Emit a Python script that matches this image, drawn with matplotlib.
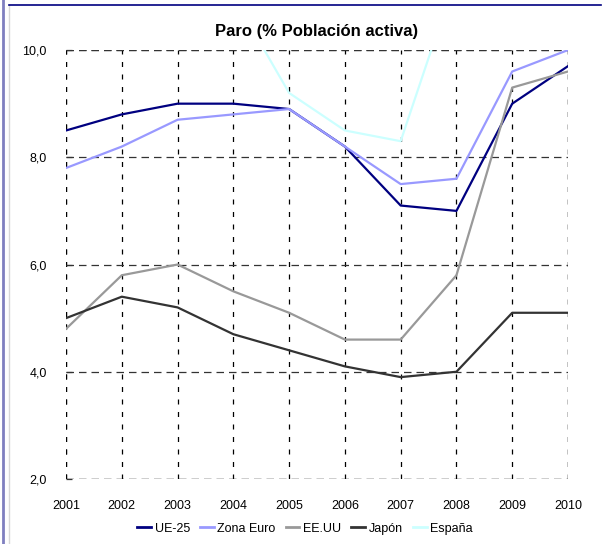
import matplotlib.pyplot as plt
from matplotlib.lines import Line2D

years = [2001, 2002, 2003, 2004, 2005, 2006, 2007, 2008, 2009, 2010]
ue25 = [8.5, 8.8, 9.0, 9.0, 8.9, 8.2, 7.1, 7.0, 9.0, 9.7]
zona_euro = [7.8, 8.2, 8.7, 8.8, 8.9, 8.2, 7.5, 7.6, 9.6, 10.0]
eeuu = [4.8, 5.8, 6.0, 5.5, 5.1, 4.6, 4.6, 5.8, 9.3, 9.6]
japon = [5.0, 5.4, 5.2, 4.7, 4.4, 4.1, 3.9, 4.0, 5.1, 5.1]
espana = [10.3, 11.1, 11.1, 11.0, 9.2, 8.5, 8.3, 11.4, 18.0, 20.1]

series = [
    ("UE-25", ue25, "#000080"),
    ("Zona Euro", zona_euro, "#9999ff"),
    ("EE.UU", eeuu, "#999999"),
    ("Japón", japon, "#333333"),
    ("España", espana, "#ccffff"),
]
yticks = [2.0, 4.0, 6.0, 8.0, 10.0]

plt.rcParams['font.family'] = ['Liberation Sans', 'DejaVu Sans']

fig = plt.figure(figsize=(6.04, 5.44), dpi=100)
ax = fig.add_axes([0.1093, 0.1195, 0.8311, 0.7885])

for name, vals, col in series:
    ax.plot(years, vals, color=col, linewidth=1.6, label=name, zorder=3)

ax.set_xlim(2001, 2010)
ax.set_ylim(2, 10)
ax.set_xticks(years)
ax.set_yticks(yticks)
ax.set_yticklabels([f"{v:.1f}".replace(".", ",") for v in yticks])
ax.tick_params(axis='both', labelsize=9, colors='#000000')
ax.tick_params(axis='x', pad=15, length=0)
ax.tick_params(axis='y', pad=14, direction='in', length=4, width=0.9, color='#333333')

ax.xaxis.grid(True, color='#000000', linestyle=(0, (4, 6)), linewidth=0.9)
ax.yaxis.grid(True, color='#333333', linestyle=(0, (6, 4)), linewidth=0.9)
for s in ax.spines.values():
    s.set_visible(False)
# dashed outer box
ax.axhline(10, color='#333333', linestyle=(0, (6, 4)), linewidth=0.9, zorder=1)
ax.axhline(2, color='#333333', linestyle=(0, (6, 4)), linewidth=0.9, zorder=1)
ax.axvline(2001, color='#000000', linestyle=(0, (4, 6)), linewidth=0.9, zorder=1)
ax.axvline(2010, color='#000000', linestyle=(0, (4, 6)), linewidth=0.9, zorder=1)

ax.set_title("Paro (% Población activa)", fontsize=12, fontweight='bold', pad=10)

handles = [Line2D([0], [0], color=c, linewidth=2) for _, _, c in series]
fig.legend(handles, [n for n, _, _ in series], loc='center', bbox_to_anchor=(0.505, 0.028),
           ncol=5, frameon=False, fontsize=9, handlelength=1.1, handletextpad=0.3,
           columnspacing=0.8)

# page frame lines
fig.add_artist(Line2D([0.005, 0.005], [0, 1], color='#8080c0', linewidth=2))
fig.add_artist(Line2D([0.015, 0.015], [0, 0.99], color='#d8d8d8', linewidth=1))
fig.add_artist(Line2D([0.015, 0.995], [0.991, 0.991], color='#000080', linewidth=1.2))

fig.savefig("out.png", dpi=100)
